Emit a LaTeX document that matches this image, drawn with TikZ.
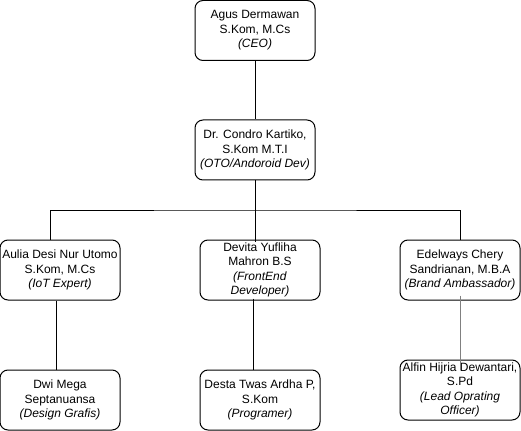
\documentclass[tikz,border=0pt]{standalone}
\usepackage{fontspec}
\setmainfont{Liberation Sans}
\usetikzlibrary{calc}

\tikzset{every picture/.style={line width=0.75pt}}
\tikzset{orgbox/.style={draw, rounded corners=6pt, minimum width=90pt, minimum height=45pt, align=center, inner sep=0.75pt, font=\fontsize{9}{10.9}\selectfont}}

\begin{document}
\begin{tikzpicture}[x=0.75pt,y=0.75pt,yscale=-1,xscale=1]
\useasboundingbox (0,0) rectangle (521,431);

% Boxes
\node [orgbox] (ceo) at (255,30.5) {Agus Dermawan\\S.Kom, M.Cs\\\textit{(CEO)}};
\node [orgbox] (cto) at (255,150) {Dr. Condro Kartiko,\\S.Kom M.T.I\\\textit{(OTO/Andoroid Dev)}};
\node [orgbox] (iot) at (60,270) {Aulia Desi Nur Utomo\\S.Kom, M.Cs\\\textit{(IoT Expert)}};
\node [orgbox] (fe) at (260,270) {Devita Yufliha\\Mahron B.S\\\textit{(FrontEnd}\\\textit{Developer)}};
\node [orgbox] (brand) at (460,270) {Edelways Chery\\Sandrianan, M.B.A\\\textit{(Brand Ambassador)}};
\node [orgbox] (design) at (60,400) {Dwi Mega\\Septanuansa\\\textit{(Design Grafis)}};
\node [orgbox] (prog) at (260,400) {Desta Twas Ardha P,\\S.Kom\\\textit{(Programer)}};
\node [orgbox] (ops) at (460,390) {Alfin Hijria Dewantari,\\S.Pd\\\textit{(Lead Oprating}\\\textit{Officer)}};

% Connectors
\coordinate (bus) at (255,210);
\draw (ceo) -- (cto);
\draw (cto.south) -- ($(cto.south |- fe.north)+(0,2)$);
\draw ($(iot.north)+(-9.3,0)$) |- (bus) -| (brand.north);
\draw ($(iot.south)+(-4,0)$) -- ($(design.north)+(-4,0)$);
\draw ($(fe.south)+(-6.7,-2)$) -- ($(prog.north)+(-6.7,0)$);
\draw [color={rgb, 255:red, 128; green, 128; blue, 128 }] ($(brand.south)+(0,-5)$) -- ($(ops.north)+(0,10)$);

\end{tikzpicture}
\end{document}
